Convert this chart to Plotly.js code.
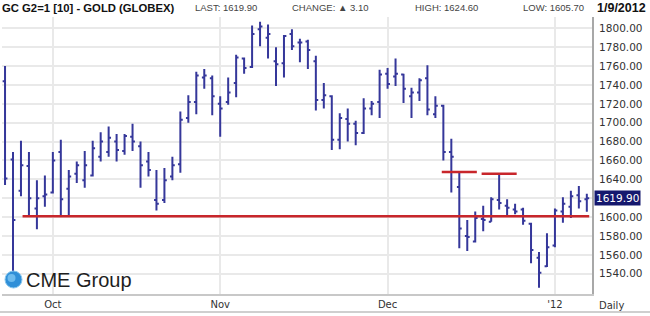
<!DOCTYPE html>
<html>
<head>
<meta charset="utf-8">
<script src="https://cdn.plot.ly/plotly-3.0.1.min.js"></script>
<style>
  html, body { margin: 0; padding: 0; background: #ffffff; }
  #chart { width: 650px; height: 316px; }
</style>
</head>
<body>
<div id="chart"></div>
<script>
// ---- data (daily bars, GC G2 gold futures) ----
const dates = [
  '2011-09-23','2011-09-26','2011-09-27','2011-09-28','2011-09-29','2011-09-30',
  '2011-10-03','2011-10-04','2011-10-05','2011-10-06','2011-10-07','2011-10-10','2011-10-11','2011-10-12','2011-10-13','2011-10-14',
  '2011-10-17','2011-10-18','2011-10-19','2011-10-20','2011-10-21','2011-10-24','2011-10-25','2011-10-26','2011-10-27','2011-10-28','2011-10-31',
  '2011-11-01','2011-11-02','2011-11-03','2011-11-04','2011-11-07','2011-11-08','2011-11-09','2011-11-10','2011-11-11','2011-11-14',
  '2011-11-15','2011-11-16','2011-11-17','2011-11-18','2011-11-21','2011-11-22','2011-11-23','2011-11-25','2011-11-28','2011-11-29','2011-11-30',
  '2011-12-01','2011-12-02','2011-12-05','2011-12-06','2011-12-07','2011-12-08','2011-12-09','2011-12-12','2011-12-13','2011-12-14',
  '2011-12-15','2011-12-16','2011-12-19','2011-12-20','2011-12-21','2011-12-22','2011-12-23','2011-12-27','2011-12-28','2011-12-29','2011-12-30',
  '2012-01-03','2012-01-04','2012-01-05','2012-01-06','2012-01-09'
];
const openP  = [1744,1661,1628,1654,1609,1622, 1626,1669,1630,1646,1639,1644,1664,1669,1680,1670, 1685,1675,1659,1618,1618,1643,1656,1705,1722,1748,1747,
                1720,1722,1742,1768,1759,1799,1790,1765,1763,1794, 1785,1786,1765,1724,1728,1682,1704,1699,1689,1715,1722,
                1752,1749,1751,1728,1732,1747,1709,1718,1669,1632, 1580,1574,1598,1595,1618,1612,1608,1608,1593,1557,1548,
                1570,1606,1611,1623,1619];
const highP  = [1760,1669,1681,1669,1639,1644, 1669,1682,1650,1659,1670,1681,1690,1696,1688,1688, 1699,1680,1669,1650,1652,1664,1712,1729,1754,1757,1750,
                1728,1748,1772,1769,1803,1807,1804,1780,1793,1799, 1789,1788,1771,1742,1729,1710,1715,1702,1726,1723,1756,
                1758,1768,1752,1737,1747,1761,1728,1719,1683,1647, 1597,1606,1612,1621,1645,1619,1614,1610,1594,1563,1583,
                1609,1621,1628,1633,1624.6];
const lowP   = [1634,1542,1622,1602,1587,1611, 1625,1600,1600,1636,1631,1643,1659,1664,1659,1666, 1670,1631,1643,1607,1615,1639,1647,1700,1709,1736,1708,
                1685,1719,1727,1752,1758,1781,1768,1739,1748,1777, 1764,1757,1713,1715,1671,1672,1680,1676,1688,1708,1705,
                1736,1739,1721,1705,1723,1708,1705,1660,1626,1567, 1564,1573,1585,1595,1608,1600,1603,1592,1551,1525,1547,
                1568,1594,1599,1609,1605.7];
const closeP = [1641,1597,1655,1620,1620,1624, 1660,1619,1643,1655,1655,1673,1680,1684,1671,1686, 1680,1655,1650,1614,1639,1655,1703,1722,1750,1750,1728,
                1715,1732,1769,1758,1794,1802,1794,1762,1792,1781, 1785,1777,1724,1729,1682,1705,1699,1689,1715,1720,1751,
                1741,1752,1736,1732,1745,1714,1718,1669,1664,1588, 1579,1599,1597,1619,1615,1610,1606,1596,1565,1541,1568,
                1607,1614,1622,1616.8,1619.9];
const monthNames = {1:"'12", 10:'Oct', 11:'Nov', 12:'Dec'};
const yTicks = [1540,1560,1580,1600,1620,1640,1660,1680,1700,1720,1740,1760,1780,1800];
const supportLevel = 1601;      // long horizontal support line
const supportStartBar = 2;       // support line drawn from this bar onward
const resistanceBars = [57, 62]; // short resistance marks at these bars' highs
const chartTitle = 'GC G2=1 [10] - GOLD (GLOBEX)';

// ---- derived ----
const idx = dates.map((d, i) => i);
const monthTickVals = [], monthTickText = [];
for (let i = 1; i < dates.length; i++) {
  const m0 = +dates[i - 1].slice(5, 7), m1 = +dates[i].slice(5, 7);
  if (m0 !== m1) { monthTickVals.push(i); monthTickText.push(monthNames[m1]); }
}
const n = closeP.length;
const last = closeP[n - 1];
const change = last - closeP[n - 2];
const d = new Date(dates[n - 1] + 'T00:00:00');
const dateLabel = (d.getMonth() + 1) + '/' + d.getDate() + '/' + d.getFullYear();
// the last-price box covers the nearest tick label
const yTickText = yTicks.map(v => Math.abs(v - last) < 8 ? '' : v.toFixed(2));

const barColor = '#35379a';
const red = '#c8262b';
const gridColor = '#e9e9e9';

// pixel helpers for paper coords (plot area: x 2..592, y 17..294)
const L = 2, R = 58, T = 17, B = 22, W = 650, H = 316;
const pw = W - L - R, ph = H - T - B;
const px = x => (x - L) / pw;
const py = y => (H - B - y) / ph;

const trace = {
  type: 'ohlc',
  x: idx, open: openP, high: highP, low: lowP, close: closeP,
  increasing: { line: { color: barColor, width: 2 } },
  decreasing: { line: { color: barColor, width: 2 } },
  tickwidth: 0.3,
  hoverinfo: 'skip',
  showlegend: false
};

const shapes = [
  { type: 'line', xref: 'x', yref: 'y', x0: supportStartBar + 0.2, x1: n - 0.7,
    y0: supportLevel, y1: supportLevel, line: { color: red, width: 2.5 } },
  ...resistanceBars.map(b => ({
    type: 'line', xref: 'x', yref: 'y', x0: b - 2.2, x1: b + 2.2,
    y0: highP[b] + 0.8, y1: highP[b] + 0.8, line: { color: red, width: 2.5 } })),
  { type: 'line', xref: 'paper', yref: 'paper', x0: px(0), x1: px(650),
    y0: py(312), y1: py(312), line: { color: '#cfcfcf', width: 2 } },
  { type: 'circle', xref: 'paper', yref: 'paper', x0: px(5), x1: px(22),
    y0: py(288), y1: py(271), fillcolor: '#2f8fd8', line: { color: '#86c6ee', width: 1 } },
  { type: 'circle', xref: 'paper', yref: 'paper', x0: px(7.5), x1: px(15.5),
    y0: py(282), y1: py(274), fillcolor: '#6dbbee', line: { width: 0 } }
];

const hdrFont = { family: 'Liberation Sans, Arial, sans-serif', size: 9.5, color: '#444' };
const hy = py(8);
const annotations = [
  { text: 'LAST: ' + last.toFixed(2), xref: 'paper', yref: 'paper', x: px(193), y: hy,
    xanchor: 'left', yanchor: 'middle', showarrow: false, font: hdrFont },
  { text: 'CHANGE: ' + (change >= 0 ? '▲ ' : '▼ ') + Math.abs(change).toFixed(2), xref: 'paper', yref: 'paper',
    x: px(290), y: hy, xanchor: 'left', yanchor: 'middle', showarrow: false, font: hdrFont },
  { text: 'HIGH: ' + highP[n - 1].toFixed(2), xref: 'paper', yref: 'paper', x: px(413), y: hy,
    xanchor: 'left', yanchor: 'middle', showarrow: false, font: hdrFont },
  { text: 'LOW: ' + lowP[n - 1].toFixed(2), xref: 'paper', yref: 'paper', x: px(521), y: hy,
    xanchor: 'left', yanchor: 'middle', showarrow: false, font: hdrFont },
  { text: '<b>' + dateLabel + '</b>', xref: 'paper', yref: 'paper', x: px(648), y: hy,
    xanchor: 'right', yanchor: 'middle', showarrow: false,
    font: { family: 'Liberation Sans, Arial, sans-serif', size: 12.5, color: '#111' } },
  { text: last.toFixed(2), xref: 'paper', yref: 'y', x: px(594), y: last,
    xanchor: 'left', yanchor: 'middle', showarrow: false, bgcolor: '#15186e', borderpad: 1,
    font: { family: 'DejaVu Sans, sans-serif', size: 10.5, color: '#ffffff' } },
  { text: 'Daily', xref: 'paper', yref: 'paper', x: px(597), y: py(305),
    xanchor: 'left', yanchor: 'middle', showarrow: false,
    font: { family: 'DejaVu Sans, sans-serif', size: 10, color: '#333' } },
  { text: 'CME Group', xref: 'paper', yref: 'paper', x: px(24), y: py(280),
    xanchor: 'left', yanchor: 'middle', showarrow: false,
    font: { family: 'Liberation Sans, Arial, sans-serif', size: 20, color: '#1e1e1e' } }
];

const layout = {
  width: W, height: H,
  margin: { l: L, r: R, t: T, b: B, pad: 0 },
  paper_bgcolor: '#ffffff', plot_bgcolor: '#ffffff',
  title: { text: '<b>' + chartTitle + '</b>', x: px(2), xanchor: 'left', xref: 'paper',
    y: 1 - 8 / H, yanchor: 'middle',
    font: { family: 'Liberation Sans, Arial, sans-serif', size: 11.3, color: '#111' } },
  xaxis: {
    range: [-0.38, 73.65], tickvals: monthTickVals, ticktext: monthTickText,
    showgrid: true, gridcolor: gridColor, gridwidth: 2, zeroline: false,
    showline: true, linecolor: '#c8c8c8', linewidth: 2, ticks: '',
    tickfont: { family: 'DejaVu Sans, sans-serif', size: 10, color: '#333' },
    rangeslider: { visible: false }, fixedrange: true
  },
  yaxis: {
    side: 'right', range: [1518.5, 1812], tickvals: yTicks, ticktext: yTickText,
    showgrid: true, gridcolor: gridColor, gridwidth: 2, zeroline: false,
    showline: true, linecolor: '#a8a8a8', linewidth: 2, ticks: '', ticklabelstandoff: 3,
    tickfont: { family: 'DejaVu Sans, sans-serif', size: 10.5, color: '#333' },
    fixedrange: true
  },
  shapes: shapes,
  annotations: annotations,
  showlegend: false
};

Plotly.newPlot('chart', [trace], layout, { staticPlot: true, displayModeBar: false });
</script>
</body>
</html>
